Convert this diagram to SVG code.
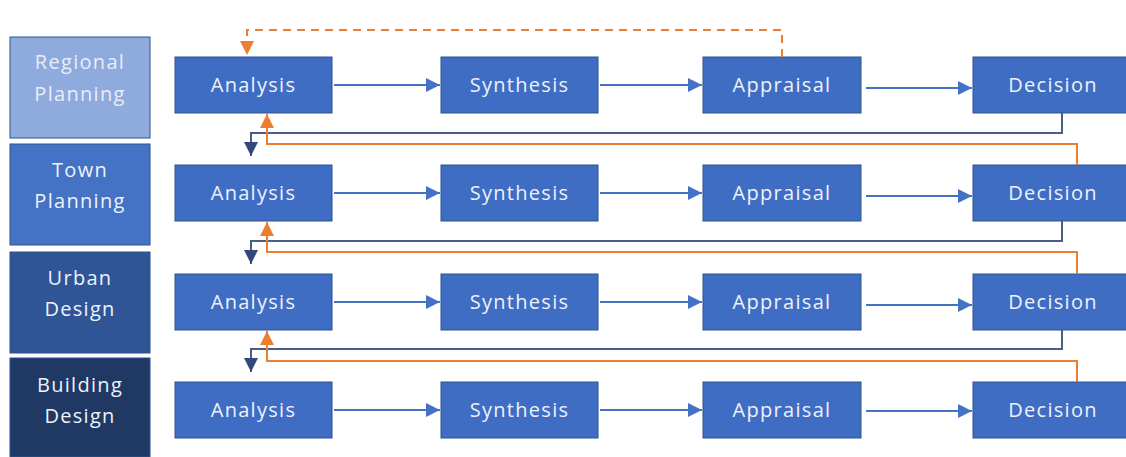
<svg xmlns="http://www.w3.org/2000/svg" width="1126" height="457" viewBox="0 0 1126 457">
<defs>
<style>
.node rect{fill:#3F6DC4;stroke:#2F528F;stroke-width:1}
.node text,.lbl text{font-family:"Open Sans","Noto Sans",sans-serif;font-size:20px;fill:#EEF2FA;text-anchor:middle;letter-spacing:1.3px}
.lbl rect{stroke:#2F528F;stroke-width:1}
.fw{stroke:#4472C4;stroke-width:2;fill:none}
.fb{stroke:#4A5D85;stroke-width:2;fill:none}
.or{stroke:#ED7D31;stroke-width:2;fill:none}
.dash{stroke:#ED7D31;stroke-width:2;fill:none;stroke-dasharray:8 6}
</style>
<marker id="ab" viewBox="0 0 10 10" refX="10" refY="5" markerWidth="7" markerHeight="7" markerUnits="strokeWidth" orient="auto"><path d="M0,0L10,5L0,10z" fill="#4472C4"/></marker>
<marker id="ad" viewBox="0 0 10 10" refX="10" refY="5" markerWidth="7" markerHeight="7" markerUnits="strokeWidth" orient="auto"><path d="M0,0L10,5L0,10z" fill="#34477A"/></marker>
<marker id="ao" viewBox="0 0 10 10" refX="10" refY="5" markerWidth="7" markerHeight="7" markerUnits="strokeWidth" orient="auto"><path d="M0,0L10,5L0,10z" fill="#ED7D31"/></marker>
</defs>
<rect width="1126" height="457" fill="#FFFFFF"/>
<g id="lbl-regional" class="lbl"><rect x="10" y="37" width="140" height="101" fill="#8FAADC"/><text x="80" y="69" style="fill:#E8EEF8">Regional</text><text x="80" y="101" style="fill:#E8EEF8">Planning</text></g>
<g id="lbl-town" class="lbl"><rect x="10" y="144" width="140" height="101" fill="#4472C4"/><text x="80" y="177">Town</text><text x="80" y="208">Planning</text></g>
<g id="lbl-urban" class="lbl"><rect x="10" y="252" width="140" height="101" fill="#2F5597"/><text x="80" y="285">Urban</text><text x="80" y="316">Design</text></g>
<g id="lbl-building" class="lbl"><rect x="10" y="358" width="140" height="99" fill="#1F3864"/><text x="80" y="392">Building</text><text x="80" y="423">Design</text></g>

<g id="r1-analysis" class="node"><rect x="175" y="57" width="157" height="56"/><text x="253.5" y="92">Analysis</text></g>
<g id="r1-synthesis" class="node"><rect x="441" y="57" width="157" height="56"/><text x="519.5" y="92">Synthesis</text></g>
<g id="r1-appraisal" class="node"><rect x="703" y="57" width="158" height="56"/><text x="782" y="92">Appraisal</text></g>
<g id="r1-decision" class="node"><rect x="973" y="57" width="155" height="56"/><text x="1053" y="92">Decision</text></g>

<g id="r2-analysis" class="node"><rect x="175" y="165" width="157" height="56"/><text x="253.5" y="200">Analysis</text></g>
<g id="r2-synthesis" class="node"><rect x="441" y="165" width="157" height="56"/><text x="519.5" y="200">Synthesis</text></g>
<g id="r2-appraisal" class="node"><rect x="703" y="165" width="158" height="56"/><text x="782" y="200">Appraisal</text></g>
<g id="r2-decision" class="node"><rect x="973" y="165" width="155" height="56"/><text x="1053" y="200">Decision</text></g>

<g id="r3-analysis" class="node"><rect x="175" y="274" width="157" height="56"/><text x="253.5" y="309">Analysis</text></g>
<g id="r3-synthesis" class="node"><rect x="441" y="274" width="157" height="56"/><text x="519.5" y="309">Synthesis</text></g>
<g id="r3-appraisal" class="node"><rect x="703" y="274" width="158" height="56"/><text x="782" y="309">Appraisal</text></g>
<g id="r3-decision" class="node"><rect x="973" y="274" width="155" height="56"/><text x="1053" y="309">Decision</text></g>

<g id="r4-analysis" class="node"><rect x="175" y="382" width="157" height="56"/><text x="253.5" y="417">Analysis</text></g>
<g id="r4-synthesis" class="node"><rect x="441" y="382" width="157" height="56"/><text x="519.5" y="417">Synthesis</text></g>
<g id="r4-appraisal" class="node"><rect x="703" y="382" width="158" height="56"/><text x="782" y="417">Appraisal</text></g>
<g id="r4-decision" class="node"><rect x="973" y="382" width="155" height="56"/><text x="1053" y="417">Decision</text></g>

<g id="connectors">
<path class="fw" marker-end="url(#ab)" d="M334,85H440"/>
<path class="fw" marker-end="url(#ab)" d="M600,85H702"/>
<path class="fw" marker-end="url(#ab)" d="M866,88H972"/>
<path class="fw" marker-end="url(#ab)" d="M334,193H440"/>
<path class="fw" marker-end="url(#ab)" d="M600,193H702"/>
<path class="fw" marker-end="url(#ab)" d="M866,196H972"/>
<path class="fw" marker-end="url(#ab)" d="M334,302H440"/>
<path class="fw" marker-end="url(#ab)" d="M600,302H702"/>
<path class="fw" marker-end="url(#ab)" d="M866,305H972"/>
<path class="fw" marker-end="url(#ab)" d="M334,410H440"/>
<path class="fw" marker-end="url(#ab)" d="M600,410H702"/>
<path class="fw" marker-end="url(#ab)" d="M866,411H972"/>

<path class="dash" marker-end="url(#ao)" d="M782,57V30H247V55"/>

<path class="fb" marker-end="url(#ad)" d="M1062,113V133H251V156"/>
<path class="or" marker-end="url(#ao)" d="M1077,165V144H267V114"/>
<path class="fb" marker-end="url(#ad)" d="M1062,221V241H251V264"/>
<path class="or" marker-end="url(#ao)" d="M1077,274V252H267V222"/>
<path class="fb" marker-end="url(#ad)" d="M1062,330V349H251V372"/>
<path class="or" marker-end="url(#ao)" d="M1077,382V361H267V331"/>
</g>
</svg>
